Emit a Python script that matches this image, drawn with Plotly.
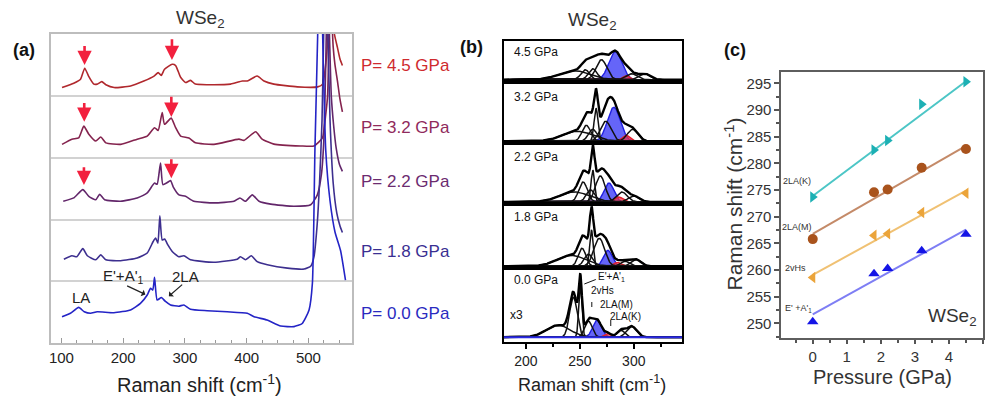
import numpy as np
import plotly.graph_objects as go

W, H = 985, 396
FONT = "Liberation Sans, Arial, sans-serif"


def px(v):
    """page x (pixels) -> paper fraction"""
    return v / W


def py(v):
    """page y (pixels from top) -> paper fraction"""
    return 1 - v / H


# ---------------------------------------------------------------
# (a) Raman spectra of WSe2 at several pressures (stacked, offset)
# ---------------------------------------------------------------
a_pressures = ["4.5", "3.2", "2.2", "1.8", "0.0"]
a_offsets = [4, 3, 2, 1, 0]
a_line_colors = ["#b0282d", "#84234e", "#62266a", "#3d2f8f", "#2424c6"]
a_text_colors = ["#cf2a2e", "#902a5c", "#6c2b70", "#3a2f92", "#2a2abf"]

shift_45 = [101, 120, 131, 137.8, 144, 152.5, 158, 165.4, 172, 185.4,
            212, 233.5, 250, 256.7, 261.6, 267, 279.5, 285, 293, 301,
            309, 317, 336, 374, 393, 401, 417, 428, 444, 482,
            515, 523, 528, 531, 534, 536, 538, 540, 542, 547, 551, 555]
int_45 = [0.134, 0.205, 0.27, 0.447, 0.32, 0.19, 0.19, 0.23, 0.18, 0.134,
          0.16, 0.24, 0.32, 0.376, 0.33, 0.43, 0.51, 0.49, 0.30, 0.215,
          0.25, 0.19, 0.18, 0.19, 0.24, 0.24, 0.32, 0.24, 0.19, 0.145,
          0.145, 0.19, 0.51, 0.89, 1.8, 3.0, 2.2, 1.3, 1.0, 0.78, 0.6, 0.49]

shift_32 = [101, 117, 128, 136.3, 144.4, 155.6, 163.7, 172, 196, 222.7,
            239, 250.8, 256.7, 263.2, 267, 277.8, 285, 293, 306.5, 317,
            347, 387.5, 395.6, 414.6, 425, 444, 487.5, 509, 522.6, 528,
            531, 533, 535, 537, 540, 543, 547, 551, 555]
int_32 = [0.216, 0.30, 0.32, 0.51, 0.38, 0.27, 0.335, 0.24, 0.216, 0.30,
          0.35, 0.485, 0.44, 0.73, 0.54, 0.64, 0.485, 0.35, 0.32, 0.24,
          0.216, 0.30, 0.28, 0.42, 0.30, 0.22, 0.19, 0.19, 0.32, 0.70,
          1.0, 1.8, 3.0, 2.5, 1.8, 1.5, 1.24, 0.95, 0.74]

shift_22 = [103, 120, 134.7, 144.4, 155.6, 162, 170, 196, 222.7, 239,
            250.8, 255, 260.5, 264.3, 270.2, 276.7, 281, 290.3, 301, 314.5,
            347, 379.4, 389, 398, 409, 420, 439, 476.6, 503.7, 514.4,
            521, 525, 528, 531, 534, 537, 541, 545, 550, 555]
int_22 = [0.296, 0.35, 0.485, 0.376, 0.32, 0.41, 0.32, 0.296, 0.35, 0.43,
          0.59, 0.57, 0.915, 0.565, 0.59, 0.63, 0.53, 0.40, 0.376, 0.296,
          0.27, 0.296, 0.35, 0.296, 0.40, 0.296, 0.25, 0.215, 0.24, 0.40,
          0.73, 1.3, 2.5, 4.0, 3.0, 2.0, 1.5, 1.15, 0.9, 0.78]

shift_18 = [104, 117, 125, 134.7, 142, 155.6, 163.7, 172, 196, 222.7,
            239, 248.6, 252.5, 256.2, 259.4, 263.2, 267.1, 272.4, 279.4, 290,
            298.4, 309, 346.8, 384.8, 390, 398, 407.5, 417, 433.4, 466,
            493, 504, 509, 514, 518, 522, 525, 528, 531, 535,
            540, 546, 551, 555]
int_18 = [0.36, 0.415, 0.40, 0.53, 0.415, 0.35, 0.43, 0.35, 0.335, 0.38,
          0.46, 0.646, 0.70, 0.62, 1.06, 0.67, 0.685, 0.59, 0.485, 0.40,
          0.415, 0.35, 0.31, 0.36, 0.40, 0.35, 0.415, 0.32, 0.27, 0.215,
          0.20, 0.25, 0.40, 0.9, 1.6, 2.6, 4.2, 5.5, 4.2, 2.6,
          1.6, 1.1, 0.9, 0.79]

shift_00 = [101, 114.6, 128, 137, 147, 158, 185, 212, 228, 239,
            244.3, 248, 250.8, 255, 262, 268, 276.7, 290, 298.4, 309,
            336, 368.5, 401, 412, 433, 455, 476.6, 490, 501, 506.4,
            510.5, 515, 518.5, 523, 528, 535, 543, 552, 560]
int_00 = [0.43, 0.485, 0.58, 0.51, 0.485, 0.51, 0.495, 0.54, 0.646, 0.78,
          0.89, 0.86, 1.066, 0.70, 0.74, 0.68, 0.62, 0.60, 0.62, 0.55,
          0.527, 0.51, 0.485, 0.43, 0.376, 0.28, 0.27, 0.32, 0.54, 0.97,
          3.12, 5.0, 7.0, 5.0, 3.12, 2.3, 1.8, 1.5, 1.02]

a_shifts = [shift_45, shift_32, shift_22, shift_18, shift_00]
a_ints = [int_45, int_32, int_22, int_18, int_00]

# red arrows marking the new modes: (shift, tip, tail) on the stacked scale
a_arrows = [(137.5, 4.50, 4.83), (279, 4.58, 4.94),
            (137, 3.58, 3.91), (278, 3.66, 4.01),
            (136.5, 2.56, 2.87), (278, 2.67, 3.00)]

# ---------------------------------------------------------------
# (b) peak decomposition, 180-345 cm-1 (Gaussian components)
# ---------------------------------------------------------------
b_pressures = ["4.5 GPa", "3.2 GPa", "2.2 GPa", "1.8 GPa", "0.0 GPa"]
b_centers = [
    [245, 255, 262, 270, 283, 293, 298, 310],
    [248, 256, 262, 265, 274, 281.5, 293, 299],
    [245, 253, 260, 262, 269, 277, 286, 289, 300],
    [242, 252, 258, 260.8, 268, 276, 285, 292, 302],
    [230, 244, 250.5, 258, 266, 276, 288, 298],
]
b_widths = [
    [14, 4, 4, 5, 6, 3, 5, 5],
    [14, 4, 4, 1.8, 5, 6, 3.5, 5],
    [14, 4, 4, 1.6, 4.5, 4.5, 4, 5, 5],
    [13, 3.5, 4, 1.6, 5, 4, 3.5, 4, 4.5],
    [11, 3.5, 1.5, 3.5, 4, 3, 3.5, 4.5],
]
b_heights = [
    [9, 10, 11, 20, 28, 4, 6, 6],
    [10, 16, 12, 33, 20, 34, 6, 12],
    [10, 20, 12, 32, 26, 19, 5, 10, 6],
    [11, 18, 12, 36, 28, 16, 4, 5, 7],
    [12, 40, 52, 16, 17, 4, 7, 11],
]
b_kinds = [
    ["k", "k", "k", "k", "b", "r", "k", "k"],
    ["k", "k", "k", "k", "k", "b", "r", "k"],
    ["k", "k", "k", "k", "k", "b", "r", "k", "k"],
    ["k", "k", "k", "k", "k", "b", "r", "k", "k"],
    ["k", "k", "k", "k", "b", "r", "k", "k"],
]
# band frames (page pixels) and baseline lift inside each band
b_edges = [41, 81.7, 143.3, 204, 268.3, 341.7]
b_lift = [2, 2, 2, 2, 4.5]

# ---------------------------------------------------------------
# (c) mode frequencies vs pressure
# ---------------------------------------------------------------
c_pressure = [0, 1.8, 2.2, 3.2, 4.5]
c_2la_k = [273.7, 282.5, 284.3, 291.1, 295.3]
c_2la_m = [265.8, 274.6, 275.1, 279.2, 282.7]
c_2vhs = [258.6, 266.5, 266.8, 270.8, 274.4]
c_ea = [250.3, 259.3, 260.3, 263.6, 266.7]
c_fit_p = [0, 4.5]
c_fit_k = [273.9, 295.4]
c_fit_m = [266.8, 283.3]
c_fit_vhs = [259.1, 274.9]
c_fit_ea = [251.7, 267.6]

fig = go.Figure()

# ---- (a) traces ----
for sx, si, off, col in zip(a_shifts, a_ints, a_offsets, a_line_colors):
    fig.add_trace(go.Scatter(
        x=sx, y=[v + off for v in si], mode="lines",
        line=dict(color=col, width=1.6, shape="spline", smoothing=0.5),
        xaxis="x", yaxis="y", showlegend=False, hoverinfo="skip"))

# ---- (b) traces ----
grid = np.linspace(179, 345, 700)
fill_col = {"b": "rgba(50,50,245,0.75)", "r": "rgba(240,50,60,0.7)"}
edge_col = {"b": "#1f1fe0", "r": "#e3202c"}
for i in range(5):
    ax_x = "x" + str(i + 2)
    ax_y = "y" + str(i + 2)
    curves = []
    for c, w, h in zip(b_centers[i], b_widths[i], b_heights[i]):
        curves.append(h * np.exp(-0.5 * ((grid - c) / w) ** 2))
    envelope = np.sum(curves, axis=0)
    for k, cv in zip(b_kinds[i], curves):
        if k in ("b", "r"):
            fig.add_trace(go.Scatter(x=grid, y=cv, mode="lines", fill="tozeroy",
                                     fillcolor=fill_col[k],
                                     line=dict(color=edge_col[k], width=1.4),
                                     xaxis=ax_x, yaxis=ax_y, showlegend=False,
                                     hoverinfo="skip"))
    for k, cv in zip(b_kinds[i], curves):
        if k == "k":
            fig.add_trace(go.Scatter(x=grid, y=cv, mode="lines",
                                     line=dict(color="#111111", width=1.5),
                                     xaxis=ax_x, yaxis=ax_y, showlegend=False,
                                     hoverinfo="skip"))
    fig.add_trace(go.Scatter(x=grid, y=envelope, mode="lines",
                             line=dict(color="#000000", width=2.4),
                             xaxis=ax_x, yaxis=ax_y, showlegend=False,
                             hoverinfo="skip"))
    if i == 4:
        # fitted background of the ambient-pressure spectrum
        fig.add_trace(go.Scatter(x=grid, y=np.zeros_like(grid), mode="lines",
                                 line=dict(color="#2a2ae6", width=2),
                                 xaxis=ax_x, yaxis=ax_y, showlegend=False,
                                 hoverinfo="skip"))

# ---- (c) traces ----
c_series = [
    (c_2la_k, c_fit_k, "#1cb0b4", "#4cc6c6", "triangle-right"),
    (c_2la_m, c_fit_m, "#a9531c", "#c48a68", "circle"),
    (c_2vhs, c_fit_vhs, "#eba43a", "#f0c173", "triangle-left"),
    (c_ea, c_fit_ea, "#1414e6", "#7e7ef4", "triangle-up"),
]
for vals, fit, mcol, lcol, sym in c_series:
    fig.add_trace(go.Scatter(x=c_fit_p, y=fit, mode="lines",
                             line=dict(color=lcol, width=2),
                             xaxis="x7", yaxis="y7", showlegend=False,
                             hoverinfo="skip"))
    fig.add_trace(go.Scatter(x=c_pressure, y=vals, mode="markers",
                             marker=dict(symbol=sym, size=10, color=mcol),
                             xaxis="x7", yaxis="y7", showlegend=False,
                             hoverinfo="skip"))

# ---------------- axes ----------------
layout = dict(
    width=W, height=H, margin=dict(l=0, r=0, t=0, b=0),
    paper_bgcolor="white", plot_bgcolor="white",
    font=dict(family=FONT, color="#222222"),
    showlegend=False,
)

# (a)
layout["xaxis"] = dict(
    domain=[px(49), px(351)], anchor="y", range=[83, 571],
    tickmode="linear", tick0=0, dtick=100, ticks="inside", ticklen=5,
    tickcolor="#9a9a9a", tickfont=dict(size=15, color="#222"),
    minor=dict(dtick=25, tick0=0, ticks="inside", ticklen=3, tickcolor="#9a9a9a"),
    showline=True, mirror=True, linecolor="#bdbdbd", linewidth=2,
    showgrid=False, zeroline=False)
layout["yaxis"] = dict(
    domain=[py(343.3), py(34)], anchor="x", range=[0, 5],
    tickmode="linear", tick0=0, dtick=1, showticklabels=False, ticks="",
    showgrid=True, gridcolor="#d2d2d2", gridwidth=1.5,
    showline=True, mirror=True, linecolor="#bdbdbd", linewidth=2,
    zeroline=False)

# (b) five stacked bands sharing one shift axis
for i in range(5):
    top, bot = b_edges[i], b_edges[i + 1]
    hgt = bot - top
    xa = dict(
        domain=[px(502.7), px(681.7)], anchor="y" + str(i + 2), range=[179.4, 345],
        showline=True, mirror=True, linecolor="#000", linewidth=2,
        showgrid=False, zeroline=False)
    if i > 0:
        xa["matches"] = "x2"
    if i == 4:
        xa.update(tickmode="linear", tick0=0, dtick=50, ticks="outside",
                  ticklen=5, tickcolor="#000", tickwidth=1.5,
                  tickfont=dict(size=14, color="#222"),
                  minor=dict(dtick=25, tick0=0, ticks="outside", ticklen=3,
                             tickcolor="#000"))
    else:
        xa.update(showticklabels=False, ticks="")
    layout["xaxis" + str(i + 2)] = xa
    layout["yaxis" + str(i + 2)] = dict(
        domain=[py(bot), py(top)], anchor="x" + str(i + 2),
        range=[-b_lift[i], hgt - b_lift[i]],
        showticklabels=False, ticks="", showgrid=False, zeroline=False,
        showline=True, mirror=True, linecolor="#000", linewidth=2)

# (c)
layout["xaxis7"] = dict(
    domain=[px(781), px(983.3)], anchor="y7", range=[-0.92, 5.01],
    tickmode="linear", tick0=0, dtick=1, ticks="outside", ticklen=4,
    tickwidth=1.5, tickcolor="#555", tickfont=dict(size=15, color="#333"),
    minor=dict(dtick=0.5, tick0=0, ticks="outside", ticklen=3, tickcolor="#555"),
    showline=True, mirror=True, linecolor="#5e5e5e", linewidth=2,
    showgrid=False, zeroline=False)
layout["yaxis7"] = dict(
    domain=[py(338.3), py(71.7)], anchor="x7", range=[247.2, 297.2],
    tickmode="linear", tick0=0, dtick=5, ticks="outside", ticklen=5,
    tickwidth=1.5, tickcolor="#555", tickfont=dict(size=15, color="#333"),
    minor=dict(dtick=2.5, tick0=0, ticks="outside", ticklen=3, tickcolor="#555"),
    showline=True, mirror=True, linecolor="#5e5e5e", linewidth=2,
    showgrid=False, zeroline=False)

fig.update_layout(**layout)

# ---------------- text ----------------
ann = []


def text(x, y, s, size, color="#222", xanchor="center", bold=False, **kw):
    d = dict(x=px(x), y=py(y), xref="paper", yref="paper", text=s,
             showarrow=False, xanchor=xanchor, yanchor="middle",
             font=dict(size=size, color=color, family=FONT))
    if bold:
        d["font"]["weight"] = "bold"
    d.update(kw)
    ann.append(d)


# panel labels and titles
text(22, 50, "(a)", 18, "#111", bold=True)
text(470, 47, "(b)", 18, "#111", bold=True)
text(734, 50, "(c)", 18, "#111", bold=True)
text(199, 19, "WSe<sub>2</sub>", 19, "#333")
text(592, 21, "WSe<sub>2</sub>", 19, "#333")

# axis titles
text(198, 383, "Raman shift (cm<sup>-1</sup>)", 20, "#222")
text(591, 383, "Raman shift (cm<sup>-1</sup>)", 18, "#222")
text(882, 376.5, "Pressure (GPa)", 20, "#333")
text(733, 204, "Raman shift (cm<sup>-1</sup>)", 21, "#333", textangle=-90)

# (a) pressure labels
a_label_y = [65, 127.7, 181.7, 251.7, 313.3]
for p, yy, col in zip(a_pressures, a_label_y, a_text_colors):
    text(358, yy, "P= " + p + " GPa", 17, col, xanchor="left")

# (a) red arrows
for sx, tip, tail in a_arrows:
    ann.append(dict(x=sx, y=tip, ax=sx, ay=tail, xref="x", yref="y",
                    axref="x", ayref="y", text="", showarrow=True,
                    arrowhead=2, arrowsize=1.1, arrowwidth=2.6,
                    arrowcolor="#f2203e", standoff=0))

# (a) mode labels at ambient pressure
ann.append(dict(x=131.5, y=0.74, xref="x", yref="y", text="LA", showarrow=False,
                font=dict(size=15, color="#222", family=FONT)))
ann.append(dict(x=201, y=1.08, xref="x", yref="y", text="E'+A'<sub>1</sub>",
                showarrow=False, font=dict(size=15, color="#222", family=FONT)))
ann.append(dict(x=301, y=1.08, xref="x", yref="y", text="2LA", showarrow=False,
                font=dict(size=15, color="#222", family=FONT)))
ann.append(dict(x=236, y=0.79, ax=204, ay=0.94, xref="x", yref="y", axref="x",
                ayref="y", text="", showarrow=True, arrowhead=1, arrowsize=1,
                arrowwidth=1.2, arrowcolor="#222", standoff=0))
ann.append(dict(x=274, y=0.76, ax=298, ay=0.97, xref="x", yref="y", axref="x",
                ayref="y", text="", showarrow=True, arrowhead=1, arrowsize=1,
                arrowwidth=1.2, arrowcolor="#222", standoff=0))

# (b) band labels
b_label_y = [51.7, 96.7, 156.7, 216.7, 280]
for p, yy in zip(b_pressures, b_label_y):
    text(511, yy, p, 12, "#111", xanchor="left")
text(507, 315, "x3", 12, "#111", xanchor="left")
text(595, 277, "E'+A'<sub>1</sub>", 10, "#111", xanchor="left")
text(588, 290, "2vHs", 10, "#111", xanchor="left")
text(597, 304, "2LA(M)", 10, "#111", xanchor="left")
text(607, 316, "2LA(K)", 10, "#111", xanchor="left")

# (c) series labels
text(797, 181, "2LA(K)", 9, "#333")
text(797, 227, "2LA(M)", 9, "#333")
text(795, 268, "2vHs", 9, "#333")
text(798, 308, "E' +A'<sub>1</sub>", 9, "#333")
text(952, 317, "WSe<sub>2</sub>", 19, "#333")

fig.update_layout(annotations=ann)

# leader line to the E'+A'1 peak and small markers above 2vHs / 2LA(K)
fig.update_layout(shapes=[
    dict(type="line", xref="paper", yref="paper", x0=px(583.5), x1=px(595),
         y0=py(284), y1=py(279.5), line=dict(color="#111", width=1)),
    dict(type="line", xref="paper", yref="paper", x0=px(591), x1=px(591),
         y0=py(307), y1=py(302), line=dict(color="#111", width=1)),
    dict(type="line", xref="paper", yref="paper", x0=px(610), x1=px(610),
         y0=py(326), y1=py(320), line=dict(color="#111", width=1)),
])

fig.write_html("out.html")
